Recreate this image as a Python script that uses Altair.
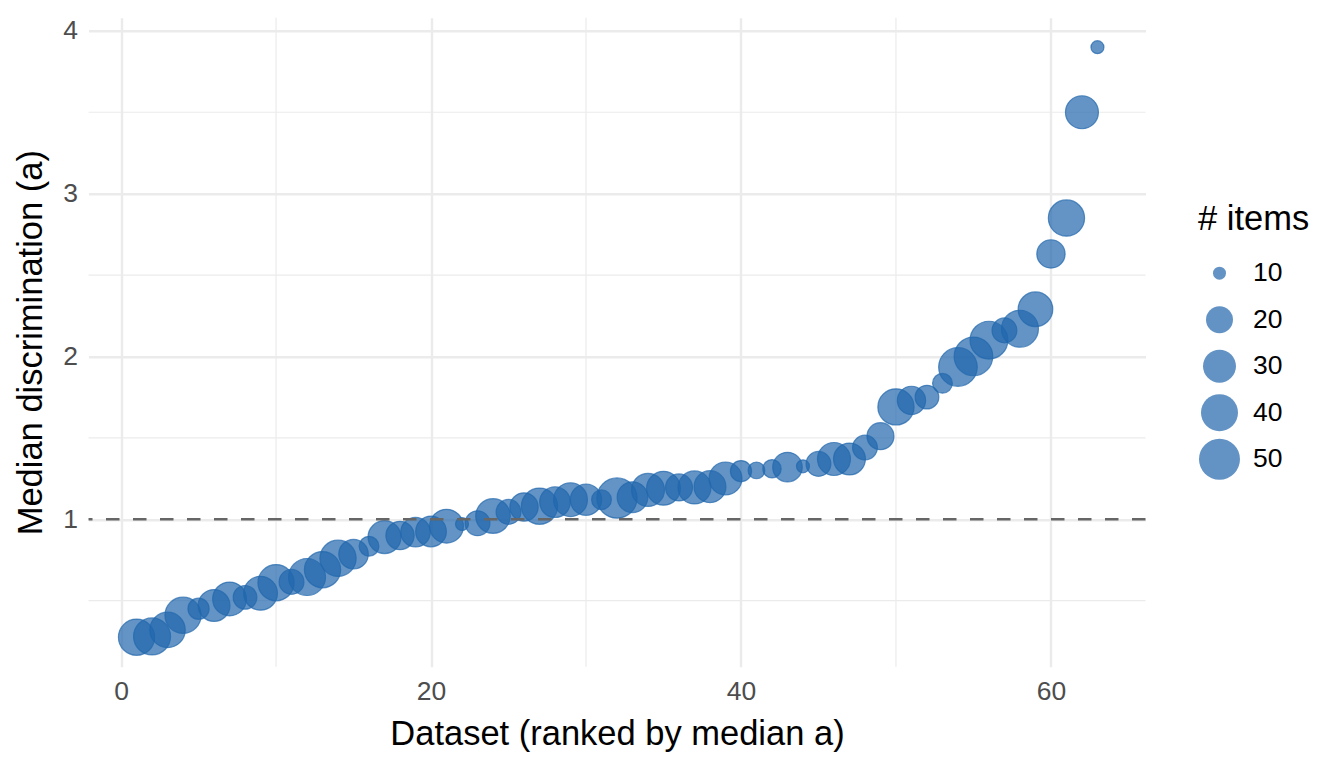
import altair as alt
import pandas as pd

# ---- data ----
rank = list(range(1, 64))
median_a = [0.275, 0.28, 0.32, 0.41, 0.45, 0.47, 0.51, 0.52, 0.545, 0.61,
            0.615, 0.645, 0.69, 0.76, 0.785, 0.834, 0.89, 0.90, 0.92, 0.925,
            0.957, 0.97, 0.975, 1.02, 1.045, 1.075, 1.08, 1.105, 1.12, 1.12,
            1.12, 1.13, 1.135, 1.18, 1.19, 1.195, 1.195, 1.20, 1.25, 1.295,
            1.30, 1.31, 1.32, 1.325, 1.34, 1.37, 1.37, 1.44, 1.51, 1.69,
            1.73, 1.75, 1.835, 1.935, 2.00, 2.10, 2.16, 2.17, 2.29, 2.63,
            2.85, 3.50, 3.90]
n_items = [38, 40, 36, 38, 15, 28, 32, 17, 32, 38,
           18, 40, 38, 38, 24, 14, 30, 22, 24, 26,
           32, 10, 18, 34, 18, 22, 38, 26, 32, 27,
           14, 48, 26, 30, 32, 20, 30, 28, 30, 15,
           12, 13, 24, 10, 18, 30, 28, 18, 20, 38,
           22, 17, 14, 44, 44, 42, 18, 40, 34, 22,
           38, 30, 10]
x_major = [0, 20, 40, 60]
x_minor = [10, 30, 50]
y_major = [1, 2, 3, 4]
y_minor = [0.5, 1.5, 2.5, 3.5]
legend_values = [10, 20, 30, 40, 50]
ref_a = [1]

BLUE = "#2166AC"
FONT = "Liberation Sans"

df = pd.DataFrame({"rank": rank, "a": median_a, "n": n_items})

xs = alt.Scale(domain=[-2.1, 66.1], nice=False, zero=False)
ys = alt.Scale(domain=[0.094, 4.081], nice=False, zero=False)

x_axis = alt.Axis(values=x_major, title="Dataset (ranked by median a)",
                  labelPadding=12, titlePadding=12)
y_axis = alt.Axis(values=y_major, title="Median discrimination (a)",
                  labelPadding=11, titlePadding=14)

minor_x = alt.Chart(pd.DataFrame({"rank": x_minor})).mark_rule(
    color="#EBEBEB", strokeWidth=1.2
).encode(x=alt.X("rank:Q", scale=xs, axis=x_axis))

minor_y = alt.Chart(pd.DataFrame({"a": y_minor})).mark_rule(
    color="#EBEBEB", strokeWidth=1.2
).encode(y=alt.Y("a:Q", scale=ys, axis=y_axis))

points = alt.Chart(df).mark_circle(
    fill=BLUE, fillOpacity=0.7, stroke=BLUE, strokeOpacity=0.7, strokeWidth=1.2
).encode(
    x=alt.X("rank:Q", scale=xs, axis=x_axis),
    y=alt.Y("a:Q", scale=ys, axis=y_axis),
    size=alt.Size("n:Q",
                  scale=alt.Scale(domain=[10, 20, 30, 40, 50],
                                  range=[169, 729, 1089, 1369, 1681], zero=False),
                  legend=alt.Legend(title="# items", values=legend_values,
                                    orient="none", legendX=1109.5, legendY=185,
                                    symbolFillColor=BLUE, symbolStrokeColor=BLUE,
                                    symbolStrokeWidth=1.2, symbolOpacity=0.7,
                                    clipHeight=44, rowPadding=2.5,
                                    labelOffset=12, titlePadding=14)),
)

hline = alt.Chart(pd.DataFrame({"a": ref_a})).mark_rule(
    color="#666666", strokeWidth=2.6, strokeDash=[13.5, 13.5]
).encode(y=alt.Y("a:Q", scale=ys, axis=y_axis))

chart = alt.layer(minor_x, minor_y, points, hline).properties(
    width=1057, height=649,
    padding={"left": 80.5, "top": 9.7, "right": 190, "bottom": 93},
    autosize=alt.AutoSizeParams(type="none"),
).configure_view(stroke=None).configure_axis(
    labelFont=FONT, labelFontSize=26.5, labelColor="#4D4D4D",
    titleFont=FONT, titleFontSize=34.5, titleColor="#000000", titleFontWeight="normal",
    domain=False, ticks=False, grid=True, gridColor="#EBEBEB", gridWidth=2.4,
).configure_legend(
    titleFont=FONT, titleFontSize=34.5, titleColor="#000000", titleFontWeight="normal",
    labelFont=FONT, labelFontSize=26.5, labelColor="#000000",
)

chart.save("out.html", embed_options={"renderer": "svg", "actions": False})
